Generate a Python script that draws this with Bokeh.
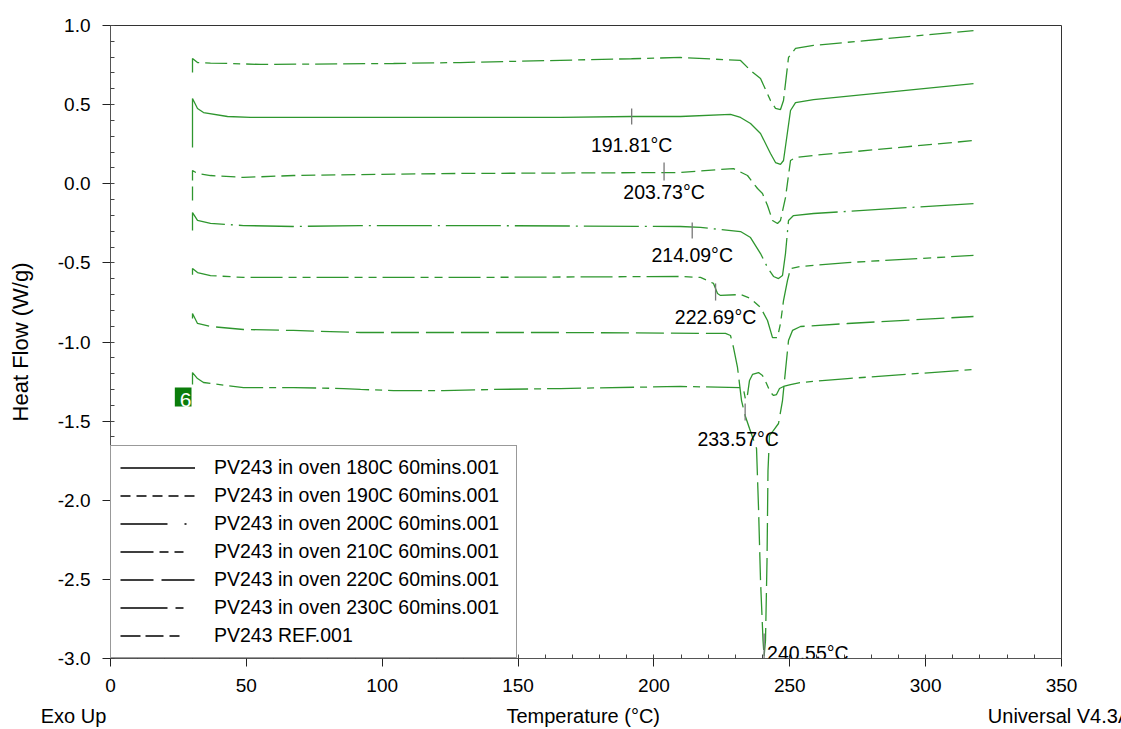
import numpy as np
from bokeh.plotting import figure
from bokeh.models import (Range1d, SingleIntervalTicker, NumeralTickFormatter,
                          Legend, LegendItem, Label, ColumnDataSource)
from bokeh.embed import file_html
from bokeh.resources import INLINE

# ---------------- data ----------------
series_names = ["PV243 in oven 180C 60mins.001", "PV243 in oven 190C 60mins.001",
                "PV243 in oven 200C 60mins.001", "PV243 in oven 210C 60mins.001",
                "PV243 in oven 220C 60mins.001", "PV243 in oven 230C 60mins.001",
                "PV243 REF.001"]

T_ref = [30.18, 30.18, 32.02, 36.80, 43.06, 55.21, 104.16, 128.81, 165.62, 191.75, 209.78, 231.87,
         235.55, 239.23, 242.90, 244.75, 246.58, 247.69, 249.53, 252.11, 258.73, 317.61]
H_ref = [0.703, 0.791, 0.766, 0.762, 0.760, 0.754, 0.760, 0.766, 0.780, 0.790, 0.798, 0.779,
         0.716, 0.665, 0.526, 0.476, 0.469, 0.526, 0.798, 0.855, 0.874, 0.968]

T_180 = [30.18, 30.18, 32.02, 34.23, 43.06, 51.53, 92.01, 128.81, 165.62, 191.75, 209.78, 228.18,
         231.87, 235.55, 239.23, 242.90, 244.75, 246.58, 247.69, 250.27, 252.11, 258.73, 317.61]
H_180 = [0.229, 0.539, 0.476, 0.450, 0.425, 0.419, 0.419, 0.419, 0.419, 0.425, 0.425, 0.438,
         0.419, 0.381, 0.318, 0.191, 0.134, 0.122, 0.147, 0.463, 0.513, 0.532, 0.633]

T_190 = [30.18, 30.18, 32.02, 36.80, 48.95, 67.35, 92.01, 128.81, 209.78, 229.29, 234.44, 238.12,
         239.96, 241.80, 243.64, 245.48, 246.58, 248.42, 250.27, 252.11, 258.73, 317.61]
H_190 = [-0.106, 0.084, 0.065, 0.052, 0.040, 0.052, 0.058, 0.065, 0.071, 0.096, 0.052, -0.030,
         -0.062, -0.137, -0.232, -0.251, -0.232, -0.087, 0.147, 0.166, 0.179, 0.273]

T_200 = [30.18, 30.18, 32.02, 36.80, 48.95, 67.35, 92.01, 128.81, 209.78, 217.14, 231.87, 235.55,
         239.23, 241.80, 244.01, 245.85, 247.32, 248.42, 249.53, 251.37, 258.73, 317.61]
H_200 = [-0.295, -0.182, -0.232, -0.251, -0.264, -0.270, -0.264, -0.264, -0.270, -0.276, -0.302, -0.340,
         -0.441, -0.529, -0.586, -0.599, -0.580, -0.441, -0.232, -0.201, -0.188, -0.125]

T_210 = [30.18, 30.18, 32.02, 36.80, 48.95, 92.01, 128.81, 209.78, 217.14, 221.93, 223.40, 224.50,
         231.87, 235.55, 239.23, 241.80, 243.64, 245.48, 246.58, 247.69, 249.16, 250.27, 253.95,
         271.25, 317.61]
H_210 = [-0.575, -0.536, -0.561, -0.580, -0.592, -0.592, -0.592, -0.586, -0.592, -0.630, -0.694, -0.706,
         -0.700, -0.725, -0.782, -0.864, -0.972, -0.972, -0.883, -0.738, -0.611, -0.536, -0.523,
         -0.498, -0.453]

T_220 = [30.18, 30.18, 32.02, 36.80, 48.95, 67.35, 92.01, 165.62, 226.34, 228.18, 229.29, 230.76,
         232.24, 233.56, 235.18, 237.76, 238.49, 239.23, 240.15, 240.55, 241.06, 241.62, 241.98,
         242.54, 244.01, 245.85, 247.32, 248.42, 249.53, 251.00, 253.95, 271.25, 317.61]
H_220 = [-0.851, -0.820, -0.883, -0.902, -0.921, -0.927, -0.940, -0.940, -0.946, -0.959, -1.035, -1.161,
         -1.370, -1.464, -1.547, -1.673, -2.046, -2.507, -2.886, -2.987, -2.886, -2.381, -1.812,
         -1.591, -1.559, -1.515, -1.370, -1.180, -0.991, -0.927, -0.902, -0.883, -0.839]

T_230 = [30.18, 30.18, 32.02, 34.23, 36.80, 48.95, 67.35, 85.75, 92.01, 104.16, 122.56, 140.96,
         165.62, 209.78, 231.87, 232.97, 233.71, 234.44, 235.18, 236.28, 238.49, 239.96, 241.43,
         242.90, 244.01, 245.11, 246.22, 247.69, 250.27, 253.95, 271.25, 317.61]
H_230 = [-1.269, -1.193, -1.231, -1.256, -1.262, -1.288, -1.288, -1.294, -1.300, -1.307, -1.307, -1.300,
         -1.294, -1.281, -1.288, -1.300, -1.363, -1.332, -1.243, -1.205, -1.193, -1.212, -1.262,
         -1.319, -1.338, -1.332, -1.294, -1.281, -1.269, -1.256, -1.231, -1.174]

onset_temps = [191.81, 203.73, 214.09, 222.69, 233.57, 240.55]
onset_labels = ["191.81°C", "203.73°C", "214.09°C", "222.69°C", "233.57°C", "240.55°C"]
onset_tick_top = [0.476, 0.134, -0.245, -0.630, -1.389, -2.842]
onset_tick_bottom = [0.374, 0.021, -0.346, -0.738, -1.496, -3.0]

x_title = "Temperature (°C)"
y_title = "Heat Flow (W/g)"
left_note = "Exo Up"
right_note = "Universal V4.3A"

x_ticks_interval = 50
y_ticks_interval = 0.5

# ---------------- figure ----------------
FONT = "Liberation Sans"
GREEN = "#2e962e"
NB = "\u00a0"

# bottom caption line: "Exo Up" at left, title centred, version note at right
bottom_caption = left_note + NB * 72 + x_title + NB * 59 + right_note

p = figure(width=1121, height=729, output_backend="svg", toolbar_location=None,
           x_range=Range1d(0, 350), y_range=Range1d(-3.0, 1.0),
           min_border_left=110, min_border_right=60, min_border_top=25, min_border_bottom=71,
           x_axis_label=bottom_caption, y_axis_label=y_title)
p.background_fill_color = "white"
p.border_fill_color = "white"
p.grid.visible = False
p.outline_line_color = "#333333"
p.outline_line_width = 1

p.xaxis.ticker = SingleIntervalTicker(interval=x_ticks_interval, num_minor_ticks=5)
p.yaxis.ticker = SingleIntervalTicker(interval=y_ticks_interval, num_minor_ticks=5)
p.yaxis.formatter = NumeralTickFormatter(format="0.0")
for ax in (p.xaxis[0], p.yaxis[0]):
    ax.major_tick_out = 8
    ax.major_tick_in = 0
    ax.minor_tick_in = 4
    ax.minor_tick_out = 0
    ax.axis_line_color = "#555555"
    ax.major_tick_line_color = "#222222"
    ax.minor_tick_line_color = "#444444"
    ax.major_label_text_font = FONT
    ax.major_label_text_font_size = "19px"
    ax.major_label_text_color = "black"
    ax.major_label_standoff = 12
    ax.axis_label_text_font = FONT
    ax.axis_label_text_font_style = "normal"
    ax.axis_label_text_color = "black"
p.xaxis.axis_label_text_font_size = "20px"
p.yaxis.axis_label_text_font_size = "22px"
p.xaxis.axis_label_standoff = 10
p.yaxis.axis_label_standoff = 22

# ---------------- curves ----------------
curves = [
    (T_180, H_180, "solid"),
    (T_190, H_190, "14 6"),
    (T_200, H_200, "55 6 2 6"),
    (T_210, H_210, "32 6 8 6 8 6"),
    (T_220, H_220, "28 7"),
    (T_230, H_230, "34 6 7 6"),
    (T_ref, H_ref, "22 6 22 6 7 6"),
]
for T, H, dash in curves:
    src = ColumnDataSource(dict(x=T, y=H))
    p.line("x", "y", source=src, line_color=GREEN, line_width=1.3, line_dash=dash)

# onset tick marks
p.segment(x0=onset_temps, y0=onset_tick_top, x1=onset_temps, y1=onset_tick_bottom,
          line_color="#777777", line_width=1.3)

# onset labels
label_centers_y = [0.242, -0.055, -0.453, -0.845, -1.616, -2.968]
label_dx = [0, 0, 0, 0, -7, 3]
label_align = ["center", "center", "center", "center", "center", "left"]
for t, txt, yc, dx, al in zip(onset_temps, onset_labels, label_centers_y, label_dx, label_align):
    p.add_layout(Label(x=t, y=yc, text=txt, x_offset=dx, text_align=al, text_baseline="middle",
                       text_font=FONT, text_font_size="19.5px", text_color="black"))

# "6" curve tag at the start of the 230C curve
p.add_layout(Label(x=T_230[0], y=H_230[0], text="6", text_align="right", text_baseline="top",
                   x_offset=-1, y_offset=-3, text_font=FONT, text_font_size="21px", text_color="white",
                   background_fill_color="#0b7d0b", padding=(5, 0, 5, 0)))

# ---------------- legend (black samples) ----------------
legend_dashes = ["solid", "10 6", "47 17 2 11", "33 6 9 6 9 14", "33 8", "47 8 8 14", "20 5 18 6 10 18"]
items = []
for name, dash in zip(series_names, legend_dashes):
    r = p.line(x=np.array([np.nan]), y=np.array([np.nan]), line_color="black",
               line_width=1.3, line_dash=dash)
    items.append(LegendItem(label=name, renderers=[r]))
legend = Legend(items=items, location=(0, 0), padding=9, spacing=3, margin=0,
                glyph_width=75, glyph_height=25, label_height=25, label_width=293,
                label_standoff=19, label_text_font=FONT, label_text_font_size="19.5px",
                label_text_color="black", border_line_color="#333333", border_line_width=1,
                background_fill_color="white", background_fill_alpha=1.0)
p.add_layout(legend)

open("out.html", "w").write(file_html(p, INLINE))
